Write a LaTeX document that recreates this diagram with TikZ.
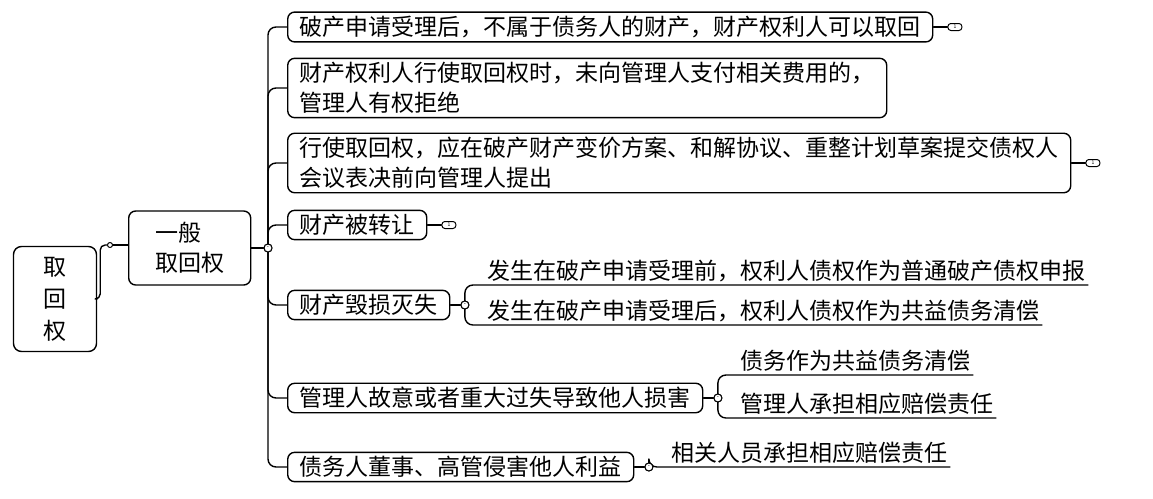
\documentclass[tikz,border=0pt]{standalone}
\usepackage{fontspec}
\setmainfont{Noto Sans CJK SC}
\usetikzlibrary{positioning}
\tikzset{
  topic/.style={draw,rounded corners=7pt,line width=1.4pt,anchor=west,align=left,inner xsep=12pt,inner ysep=4pt,font=\fontsize{23}{30}\selectfont},
  leaf/.style={anchor=south west,inner xsep=2pt,inner ysep=3pt,font=\fontsize{23}{30}\selectfont},
  fold/.style={draw,rounded corners=3pt,line width=1pt,minimum width=14pt,minimum height=7pt,inner sep=0pt,font=\fontsize{5}{5}\selectfont},
  knob/.style={draw,circle,line width=1pt,fill=white,minimum size=8pt,inner sep=0pt,font=\fontsize{6}{6}\selectfont},
  link/.style={line width=1.4pt,rounded corners=8pt},
}
\begin{document}
\begin{tikzpicture}[x=1pt,y=-1pt,line cap=round,line join=round,node distance=14pt]
  \useasboundingbox (0,0) rectangle (1153,498);
  % root and first level
  \node[draw,rounded corners=8pt,line width=1.4pt,align=center,minimum width=83pt,minimum height=105pt,font=\fontsize{23}{32}\selectfont] (root) at (55,299) {取\\回\\权};
  \node[topic,minimum width=122pt,minimum height=74pt] (gen) at (128,248) {一般\\取回权};
  \node[knob,minimum size=5pt] (k0) at (110,245) {};
  \draw[link,rounded corners=5pt] (root.east) -- ++(3,0) |- (k0.west);
  \draw[link] (k0.east) -- (gen.west |- k0);
  \node[knob] (hub) at (268,248) {-};
  \draw[link] (gen.east |- hub) -- (hub.west);
  % branches
  \node[topic] (b1) at (287,27) {破产申请受理后，不属于债务人的财产，财产权利人可以取回};
  \node[topic] (b2) at (287,88) {财产权利人行使取回权时，未向管理人支付相关费用的，\\管理人有权拒绝};
  \node[topic] (b3) at (287,163) {行使取回权，应在破产财产变价方案、和解协议、重整计划草案提交债权人\\会议表决前向管理人提出};
  \node[topic] (b4) at (287,225) {财产被转让};
  \node[topic] (b5) at (287,305) {财产毁损灭失};
  \node[topic] (b6) at (287,398) {管理人故意或者重大过失导致他人损害};
  \node[topic] (b7) at (287,467) {债务人董事、高管侵害他人利益};
  \foreach \b in {b1,b2,b3,b4,b5,b6,b7}
    \draw[link] (hub.center) |- (\b.west);
  \node[knob] (hub) at (268,248) {-};
  % folded markers
  \node[fold,right=of b1] (f1) {1};
  \node[fold,right=of b3] (f3) {1};
  \node[fold,right=of b4] (f4) {1};
  \foreach \b/\f in {b1/f1,b3/f3,b4/f4}
    \draw[line width=1.2pt] (\b.east) -- (\f.west);
  % leaves
  \node[knob,right=10pt of b5] (k5) {-};
  \node[leaf] (l51) at ([xshift=16pt,yshift=20pt]k5.east) {发生在破产申请受理前，权利人债权作为普通破产债权申报};
  \node[leaf] (l52) at ([xshift=16pt,yshift=-20pt]k5.east) {发生在破产申请受理后，权利人债权作为共益债务清偿};
  \node[knob,right=10pt of b6] (k6) {-};
  \node[leaf] (l61) at ([xshift=16pt,yshift=23pt]k6.east) {债务作为共益债务清偿};
  \node[leaf] (l62) at ([xshift=16pt,yshift=-20pt]k6.east) {管理人承担相应赔偿责任};
  \node[knob,right=10pt of b7] (k7) {-};
  \node[leaf] (l71) at ([xshift=16pt]k7.east) {相关人员承担相应赔偿责任};
  \draw[line width=1.2pt] (b5.east) -- (k5.west);
  \draw[line width=1.2pt] (b6.east) -- (k6.west);
  \draw[line width=1.2pt] (b7.east) -- (k7.west);
  \foreach \k/\l in {k5/l51,k5/l52,k6/l61,k6/l62,k7/l71}
    \draw[link] (\k.center) |- (\l.south west) -- (\l.south east);
  \foreach \k in {k5,k6,k7}
    \node[knob] at (\k) {-};
\end{tikzpicture}
\end{document}
